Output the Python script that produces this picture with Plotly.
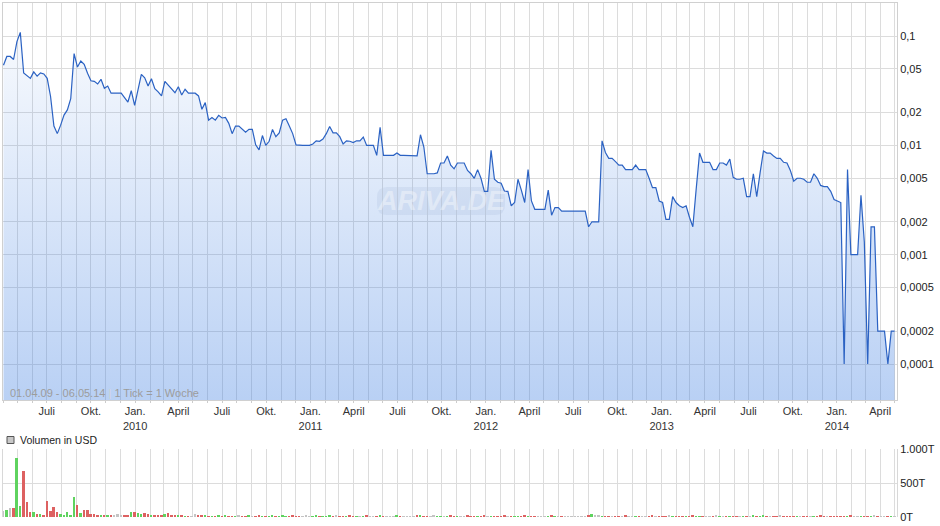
import pandas as pd
import plotly.graph_objects as go

# ---------------- data ----------------
start_date = "2009-04-02"   # weekly points ("1 Tick = 1 Woche")

price = [
    0.054, 0.065, 0.065, 0.061, 0.089, 0.108, 0.046, 0.043, 0.041, 0.047,
    0.043, 0.046, 0.045, 0.041, 0.028, 0.015, 0.0128, 0.0153, 0.0189, 0.0211,
    0.0267, 0.069, 0.052, 0.059, 0.055, 0.0456, 0.039, 0.0385, 0.0364, 0.0402,
    0.0333, 0.0349, 0.030, 0.030, 0.030, 0.030, 0.0273, 0.0249, 0.0316, 0.0232,
    0.0321, 0.0446, 0.0415, 0.0349, 0.0407, 0.033, 0.0309, 0.0283, 0.0385, 0.0354,
    0.0326, 0.0303, 0.0344, 0.0289, 0.0326, 0.030, 0.030, 0.030, 0.0283, 0.0214,
    0.0246, 0.017, 0.018, 0.017, 0.0188, 0.0178, 0.018, 0.0159, 0.0128, 0.015,
    0.015, 0.0142, 0.0132, 0.014, 0.014, 0.0101, 0.0091, 0.0123, 0.010, 0.0109,
    0.014, 0.012, 0.013, 0.017, 0.0175, 0.015, 0.0128, 0.0101, 0.010, 0.010,
    0.010, 0.010, 0.0103, 0.011, 0.0109, 0.0114, 0.0128, 0.0149, 0.013, 0.013,
    0.012, 0.0103, 0.011, 0.0109, 0.0106, 0.011, 0.011, 0.0119, 0.010, 0.010,
    0.010, 0.0081, 0.0146, 0.0081, 0.0081, 0.0081, 0.0081, 0.0085, 0.0081, 0.0081,
    0.0081, 0.0081, 0.0081, 0.0080, 0.0125, 0.0097, 0.0055, 0.0055, 0.0055, 0.0056,
    0.0069, 0.0069, 0.0080, 0.0066, 0.0061, 0.0069, 0.0069, 0.0069, 0.0059, 0.0055,
    0.0050, 0.0060, 0.0050, 0.0038, 0.0038, 0.0090, 0.0049, 0.0046, 0.0045, 0.0038,
    0.0038, 0.0028, 0.0030, 0.0049, 0.0039, 0.0030, 0.0060, 0.0031, 0.0026, 0.0026,
    0.0026, 0.0026, 0.0039, 0.0023, 0.0027, 0.0027, 0.0025, 0.0025, 0.0025, 0.0025,
    0.0025, 0.0025, 0.0025, 0.0025, 0.0018, 0.0020, 0.0020, 0.0020, 0.011, 0.0086,
    0.0076, 0.0076, 0.0071, 0.0066, 0.0066, 0.0060, 0.0060, 0.0060, 0.0066, 0.0060,
    0.0060, 0.0060, 0.0050, 0.0041, 0.0041, 0.0031, 0.0030, 0.0021, 0.0021, 0.0034,
    0.0030, 0.0028, 0.0027, 0.0028, 0.0022, 0.0018, 0.0040, 0.0085, 0.0070, 0.0070,
    0.0070, 0.0060, 0.0060, 0.0069, 0.0069, 0.0066, 0.0075, 0.0051, 0.0049, 0.0049,
    0.0050, 0.0034, 0.0034, 0.0055, 0.0034, 0.0056, 0.0089, 0.0085, 0.0085, 0.0080,
    0.0076, 0.0076, 0.0070, 0.0069, 0.0059, 0.0047, 0.0050, 0.0050, 0.0049, 0.0046,
    0.0046, 0.0055, 0.0050, 0.0043, 0.0042, 0.0042, 0.0038, 0.0032, 0.0031, 0.0030,
    0.0001, 0.0060, 0.0010, 0.0010, 0.0010, 0.0035, 0.0013, 0.0001, 0.0018, 0.0018,
    0.0002, 0.0002, 0.0002, 0.0001, 0.0002, 0.0002,
]

# weekly volume in USD, thousands ("T")
volume = [
    86, 100, 127, 127, 862, 162, 680, 223, 71, 71,
    40, 40, 25, 238, 86, 147, 71, 40, 20, 71,
    25, 300, 177, 56, 101, 101, 50, 40, 25, 25,
    25, 25, 20, 25, 40, 20, 25, 25, 71, 71,
    56, 40, 56, 46, 25, 15, 25, 20, 40, 56,
    20, 25, 25, 25, 10, 10, 10, 40, 25, 25,
    15, 12, 10, 12, 15, 10, 25, 12, 10, 12, 15, 10, 12, 25, 12, 10, 25, 12, 10, 12,
    15, 12, 10, 25, 12, 12, 15, 10, 12, 12, 25, 12, 10, 25, 12, 10, 12, 15, 12, 25,
    12, 10, 12, 15, 12, 10, 12, 12, 15, 10, 12, 12, 15, 10, 12, 10, 12, 15, 10, 12,
    12, 10, 12, 15, 25, 12, 10, 12, 15, 10, 12, 12, 10, 15, 12, 10, 12, 12, 15, 10,
    12, 10, 12, 15, 10, 12, 12, 10, 12, 15, 10, 12, 12, 10, 12, 15, 10, 12, 12, 10,
    12, 10, 12, 15, 10, 12, 12, 10, 12, 10, 12, 12, 10, 12, 15, 45, 15, 30, 12, 12,
    10, 12, 12, 10, 12, 15, 10, 12, 12, 10, 12, 10, 12, 15, 10, 12, 12, 10, 20, 12,
    10, 12, 12, 10, 12, 15, 10, 12, 12, 10, 12, 12, 15, 10, 12, 12, 10, 12, 12, 10,
    12, 10, 12, 15, 12, 10, 30, 12, 12, 10, 12, 15, 10, 12, 12, 10, 12, 12, 10, 12,
    12, 10, 12, 15, 10, 12, 12, 10, 12, 12, 10, 12, 15, 10, 12, 12, 10, 12, 12, 15,
    10, 12, 12, 10, 12, 12,
]

x_tick_vals = ["2009-07-01", "2009-10-01", "2010-01-01", "2010-04-01", "2010-07-01",
               "2010-10-01", "2011-01-01", "2011-04-01", "2011-07-01", "2011-10-01",
               "2012-01-01", "2012-04-01", "2012-07-01", "2012-10-01", "2013-01-01",
               "2013-04-01", "2013-07-01", "2013-10-01", "2014-01-01", "2014-04-01"]
x_tick_text = ["Juli", "Okt.", "Jan.<br>2010", "April", "Juli", "Okt.", "Jan.<br>2011",
               "April", "Juli", "Okt.", "Jan.<br>2012", "April", "Juli", "Okt.",
               "Jan.<br>2013", "April", "Juli", "Okt.", "Jan.<br>2014", "April"]

y_tick_vals = [0.0001, 0.0002, 0.0005, 0.001, 0.002, 0.005, 0.01, 0.02, 0.05, 0.1]
y_tick_text = ["0,0001", "0,0002", "0,0005", "0,001", "0,002", "0,005", "0,01",
               "0,02", "0,05", "0,1"]

vol_tick_vals = [0, 500, 1000]
vol_tick_text = ["0T", "500T", "1.000T"]

# ---------------- figure ----------------
n = min(len(price), len(volume))
price = price[:n]
volume = volume[:n]
dates = pd.date_range(start_date, periods=n, freq="7D")

Y_LOG_RANGE = [-4.329, -0.698]
y_floor = 10 ** Y_LOG_RANGE[0]

GRID = "#dcdcdc"
FONT = "Liberation Sans, Arial, sans-serif"

fig = go.Figure()

# invisible floor for the area fill
fig.add_trace(go.Scatter(x=dates, y=[y_floor] * n, mode="lines",
                         line=dict(width=0), hoverinfo="skip",
                         showlegend=False, xaxis="x", yaxis="y"))
fig.add_trace(go.Scatter(
    x=dates, y=price, mode="lines", fill="tonexty",
    line=dict(color="#2b62c3", width=1.2),
    fillgradient=dict(type="vertical",
                      colorscale=[[0, "rgba(60,125,225,0.36)"],
                                  [1, "rgba(60,125,225,0.04)"]]),
    showlegend=False, xaxis="x", yaxis="y"))

bar_colors = []
for i in range(n):
    if i == 0 or price[i] == price[i - 1]:
        bar_colors.append("#c4c4c4")
    elif price[i] > price[i - 1]:
        bar_colors.append("#5fd35f")
    else:
        bar_colors.append("#dd6161")

fig.add_trace(go.Bar(x=dates, y=volume, marker=dict(color=bar_colors, line=dict(width=0)),
                     width=3.5e8, showlegend=False, xaxis="x2", yaxis="y2"))

x_range = ["2009-04-01", "2014-05-06"]
main_bottom = (517 - 400) / 514
vol_top = (517 - 449) / 514

fig.update_layout(
    width=940, height=526,
    margin=dict(l=3, r=43, t=3, b=9, autoexpand=False),
    paper_bgcolor="white", plot_bgcolor="white",
    font=dict(family=FONT, size=11, color="#222"),
    bargap=0,
    xaxis=dict(type="date", range=x_range, domain=[0, 1], anchor="y",
               tickmode="array", tickvals=x_tick_vals, ticktext=x_tick_text,
               ticks="outside", ticklen=1, tickcolor="#cccccc",
               showgrid=True, gridcolor=GRID, gridwidth=1,
               minor=dict(dtick="M1", tick0="2009-04-01", showgrid=True,
                          gridcolor=GRID, ticks="outside", ticklen=2,
                          tickcolor="#cccccc"),
               showline=True, linecolor="#d0d0d0", mirror=True,
               tickfont=dict(size=11, color="#333"), zeroline=False),
    yaxis=dict(type="log", range=Y_LOG_RANGE, domain=[main_bottom, 1], anchor="x",
               side="right", tickmode="array", tickvals=y_tick_vals,
               ticktext=y_tick_text, showgrid=True, gridcolor=GRID,
               showline=True, linecolor="#d0d0d0", mirror=True, ticks="",
               tickfont=dict(size=11, color="#222")),
    xaxis2=dict(type="date", range=x_range, domain=[0, 1], anchor="y2",
                matches="x", showticklabels=False, ticks="",
                tickmode="array", tickvals=x_tick_vals,
                showgrid=True, gridcolor=GRID,
                minor=dict(dtick="M1", tick0="2009-04-01", showgrid=True,
                           gridcolor=GRID),
                showline=False, zeroline=False),
    yaxis2=dict(range=[0, 1000], domain=[0, vol_top], anchor="x2", side="right",
                tickmode="array", tickvals=vol_tick_vals, ticktext=vol_tick_text,
                showgrid=True, gridcolor=GRID, zeroline=False, ticks="",
                showline=True, linecolor="#d8d8d8", mirror=True,
                tickfont=dict(size=11, color="#222")),
)

# watermark
x0, x1 = (377 - 3) / 894, (505 - 3) / 894
y0, y1 = (517 - 215) / 514, (517 - 187) / 514
rx, ry = 10 / 894, 10 / 514
path = (f"M {x0+rx},{y0} L {x1-rx},{y0} Q {x1},{y0} {x1},{y0+ry} "
        f"L {x1},{y1-ry} Q {x1},{y1} {x1-rx},{y1} L {x0+rx},{y1} "
        f"Q {x0},{y1} {x0},{y1-ry} L {x0},{y0+ry} Q {x0},{y0} {x0+rx},{y0} Z")
fig.add_shape(type="path", path=path, xref="paper", yref="paper",
              fillcolor="rgba(185,195,215,0.22)", line=dict(width=0), layer="between")
fig.add_annotation(x=(441 - 3) / 894, y=(517 - 201) / 514, xref="paper", yref="paper",
                   text="<b><i>ARIVA.DE</i></b>", showarrow=False,
                   font=dict(size=27, color="rgba(255,255,255,0.38)", family=FONT))

# date range note
fig.add_annotation(x=(8 - 3) / 894, y=(517 - 393) / 514, xref="paper", yref="paper",
                   xanchor="left", yanchor="middle", showarrow=False,
                   text="01.04.09 - 06.05.14 <span style='color:#d4d4d4'>|</span> 1 Tick = 1 Woche",
                   font=dict(size=11, color="#9c9c9c", family=FONT))

# volume legend
fig.add_shape(type="rect", xref="paper", yref="paper",
              x0=(7 - 3) / 894, x1=(14 - 3) / 894,
              y0=(517 - 443.5) / 514, y1=(517 - 436.5) / 514,
              fillcolor="#c8c8c8", line=dict(color="#555", width=1))
fig.add_annotation(x=(18 - 3) / 894, y=(517 - 440) / 514, xref="paper", yref="paper",
                   xanchor="left", yanchor="middle", showarrow=False,
                   text="Volumen in USD", font=dict(size=10.5, color="#222", family=FONT))

post = ("document.body.style.margin='0';document.body.style.padding='0';"
        "var gd=document.getElementById('{plot_id}');"
        "gd.style.position='absolute';gd.style.left='0px';gd.style.top='0px';")

fig.write_html("out.html", post_script=post, config={"displayModeBar": False})
